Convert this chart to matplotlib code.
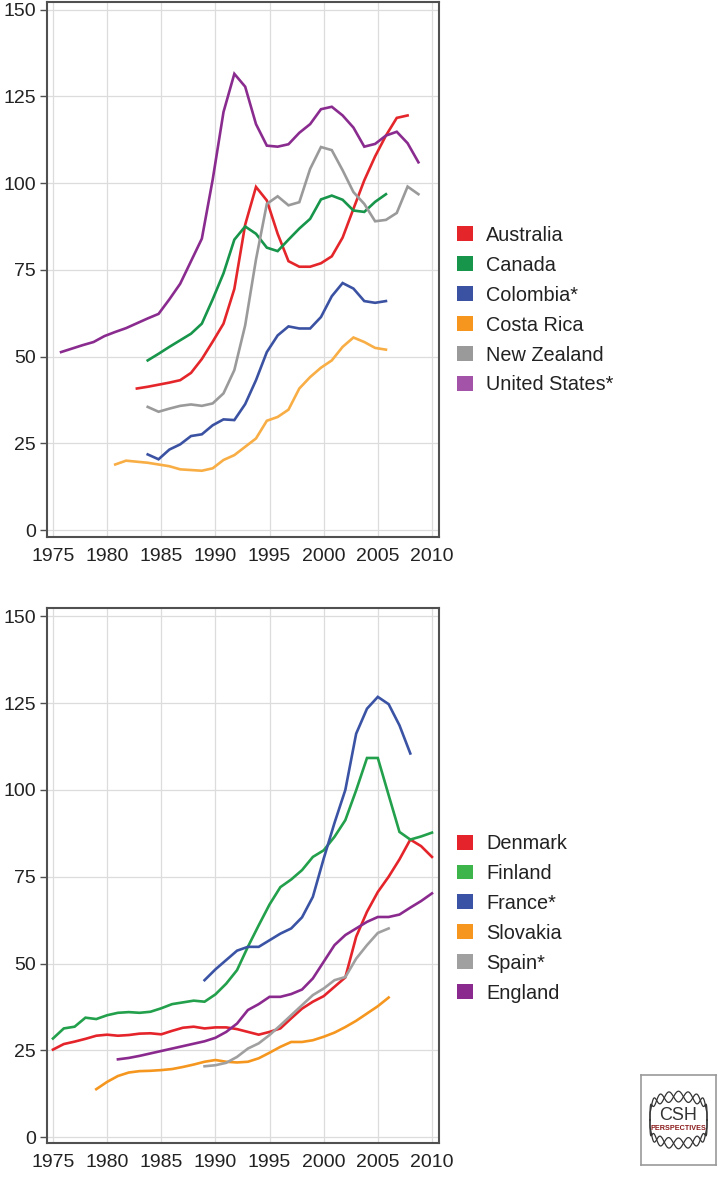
import numpy as np
import matplotlib as mpl
mpl.use('Agg')  # no display
import matplotlib.pyplot as plt
from matplotlib.patches import Patch, Rectangle

plt.rcParams['font.family'] = ['Liberation Sans', 'DejaVu Sans']

# ---- top panel: Americas / Oceania (points sit a little before the year tick)
aus_years = list(range(1983, 2009))
aus = [40.8, 41.3, 41.9, 42.5, 43.2, 45.3, 49.3, 54.3, 59.5, 69.5, 88.0, 98.9, 95.0,
       85.4, 77.5, 75.9, 75.9, 76.9, 78.9, 84.3, 92.6, 100.8, 107.7, 113.7, 118.8, 119.5]
can_years = list(range(1984, 2007))
can = [48.9, 50.8, 52.8, 54.7, 56.6, 59.5, 66.5, 74.0, 83.7, 87.5, 85.4, 81.4, 80.4,
       83.7, 86.9, 89.7, 95.3, 96.4, 95.2, 92.1, 91.7, 94.6, 96.8]
col_years = list(range(1984, 2007))
col = [21.8, 20.4, 23.2, 24.7, 27.1, 27.6, 30.2, 31.9, 31.7, 36.3, 43.2, 51.3, 56.1,
       58.7, 58.1, 58.1, 61.4, 67.4, 71.2, 69.6, 66.0, 65.5, 66.0]
cri_years = list(range(1981, 2007))
cri = [18.9, 20.0, 19.7, 19.4, 18.9, 18.4, 17.5, 17.3, 17.1, 17.8, 20.2, 21.6, 24.0,
       26.4, 31.5, 32.6, 34.7, 40.8, 44.1, 46.8, 48.9, 52.8, 55.5, 54.2, 52.5, 52.0]
nzl_years = list(range(1984, 2010))
nzl = [35.5, 34.1, 35.0, 35.8, 36.2, 35.8, 36.5, 39.4, 46.1, 59.0, 78.0, 94.0, 96.2,
       93.6, 94.5, 104.1, 110.4, 109.5, 103.7, 97.4, 94.0, 89.0, 89.4, 91.4, 99.0, 96.8]
usa_years = list(range(1976, 2010))
usa = [51.3, 52.3, 53.3, 54.2, 55.9, 57.1, 58.2, 59.6, 61.0, 62.3, 66.5, 71.0, 77.5,
       84.0, 101.0, 120.5, 131.5, 127.8, 117.0, 110.8, 110.5, 111.2, 114.5, 117.0,
       121.3, 122.0, 119.5, 116.0, 110.5, 111.3, 113.7, 114.8, 111.5, 106.0]

# ---- bottom panel: Europe
den_years = list(range(1975, 2011))
den = [25.2, 26.8, 27.5, 28.3, 29.2, 29.5, 29.2, 29.4, 29.8, 29.9, 29.6, 30.6, 31.5,
       31.8, 31.3, 31.6, 31.6, 31.1, 30.3, 29.5, 30.3, 31.3, 34.2, 37.0, 39.0, 40.6,
       43.3, 46.0, 57.7, 64.9, 70.6, 75.0, 80.0, 85.7, 83.8, 80.7]
fin_years = list(range(1975, 2011))
fin = [28.4, 31.3, 31.8, 34.4, 34.0, 35.1, 35.8, 36.0, 35.8, 36.1, 37.1, 38.3, 38.8,
       39.3, 39.0, 41.1, 44.2, 48.1, 54.8, 61.0, 67.0, 72.0, 74.2, 76.9, 80.7, 82.6,
       86.5, 91.3, 99.9, 109.2, 109.2, 98.5, 87.9, 85.7, 86.6, 87.7]
fra_years = list(range(1989, 2009))
fra = [45.2, 48.3, 51.0, 53.7, 54.8, 54.8, 56.7, 58.6, 60.1, 63.3, 69.2, 80.2, 90.5,
       100.0, 116.2, 123.4, 126.8, 124.7, 118.6, 110.5]
svk_years = list(range(1979, 2007))
svk = [13.8, 15.9, 17.6, 18.6, 19.0, 19.1, 19.3, 19.6, 20.2, 20.9, 21.7, 22.2, 21.7,
       21.5, 21.7, 22.7, 24.3, 26.0, 27.4, 27.4, 27.9, 28.9, 30.1, 31.7, 33.5, 35.6,
       37.7, 40.2]
esp_years = list(range(1989, 2007))
esp = [20.4, 20.7, 21.4, 23.1, 25.5, 27.0, 29.4, 32.2, 35.1, 38.0, 40.9, 42.8, 45.2,
       46.1, 51.4, 55.3, 58.8, 60.1]
eng_years = list(range(1981, 2011))
eng = [22.4, 22.8, 23.4, 24.1, 24.8, 25.5, 26.2, 26.9, 27.6, 28.6, 30.3, 32.7, 36.6,
       38.3, 40.4, 40.4, 41.2, 42.5, 45.7, 50.5, 55.3, 58.2, 60.1, 62.0, 63.4, 63.4,
       64.1, 66.1, 68.0, 70.2]

top_series = [('Australia', aus_years, aus, '#e4262b', '#e4262b'),
              ('Canada', can_years, can, '#17954a', '#17954a'),
              ('Colombia*', col_years, col, '#3b52a3', '#3b52a3'),
              ('Costa Rica', cri_years, cri, '#f8ae45', '#f7961f'),
              ('New Zealand', nzl_years, nzl, '#9a9a9a', '#9a9a9a'),
              ('United States*', usa_years, usa, '#8a2b8f', '#a454a8')]
bot_series = [('Denmark', den_years, den, '#e4242a', '#e4242a'),
              ('Finland', fin_years, fin, '#23a04b', '#3db54a'),
              ('France*', fra_years, fra, '#3a53a4', '#3a53a4'),
              ('Slovakia', svk_years, svk, '#f5961f', '#f7961f'),
              ('Spain*', esp_years, esp, '#a0a0a0', '#a0a0a0'),
              ('England', eng_years, eng, '#8b2a8e', '#8b2a8e')]

W, H = 718, 1179
fig = plt.figure(figsize=(W/100, H/100), dpi=100)
ax_top = fig.add_axes([47/W, 1-537/H, 392/W, 535/H])
ax_bot = fig.add_axes([47/W, 1-1143/H, 392/W, 535/H])


def style(ax, ylim):
    ax.set_xlim(1974.45, 2010.65)
    ax.set_ylim(*ylim)
    ax.set_xticks(range(1975, 2011, 5))
    ax.set_yticks(range(0, 151, 25))
    ax.grid(color='#dcdcdc', linewidth=0.9)
    ax.set_axisbelow(True)
    for s in ax.spines.values():
        s.set_color('#505050')
        s.set_linewidth(1.5)
    ax.tick_params(axis='y', length=5, width=1, color='#505050',
                   labelsize=14, labelcolor='#222222', pad=3)
    ax.tick_params(axis='x', length=0, labelsize=14, labelcolor='#222222', pad=8)


def draw(ax, series, shift, anchor_y):
    handles = []
    for name, yrs, vals, c, lc in series:
        ax.plot(np.array(yrs) + shift, vals, color=c, linewidth=1.9,
                solid_joinstyle='miter')
        handles.append(Patch(facecolor=lc, edgecolor='none', label=name))
    ax.legend(handles=handles, loc='center left', bbox_to_anchor=(1.046, anchor_y),
              frameon=False, fontsize=14.3, handlelength=0.78, handleheight=0.78,
              handletextpad=0.7, labelspacing=0.55, borderpad=0, borderaxespad=0,
              labelcolor='#222222')


draw(ax_top, top_series, -0.25, 0.424)
style(ax_top, (-2, 152.2))
draw(ax_bot, bot_series, 0.0, 0.42)
style(ax_bot, (-1.7, 152.4))

# CSH Perspectives badge, bottom right
logo = fig.add_axes([641/W, 1-1165/H, 75/W, 90/H])
logo.set_xlim(0, 1)
logo.set_ylim(0, 1)
logo.set_xticks([])
logo.set_yticks([])
for s in logo.spines.values():
    s.set_color('#9a9a9a')
    s.set_linewidth(1.2)
t = np.linspace(0, np.pi, 120)
for sgn in (1, -1):
    for ph in (0, np.pi):
        xx = 0.5 + 0.38*np.cos(t)
        yy = 0.5 + sgn*(0.26 + 0.06*np.sin(9*t + ph))*np.sin(t)**0.4
        logo.plot(xx, yy, color='#333333', linewidth=0.9)
logo.text(0.5, 0.55, 'CSH', ha='center', va='center', fontsize=13, color='#333333')
logo.text(0.5, 0.4, 'PERSPECTIVES', ha='center', va='center', fontsize=5.2,
          color='#8b1a1a', fontweight='bold')

fig.savefig('out.png', dpi=100)
